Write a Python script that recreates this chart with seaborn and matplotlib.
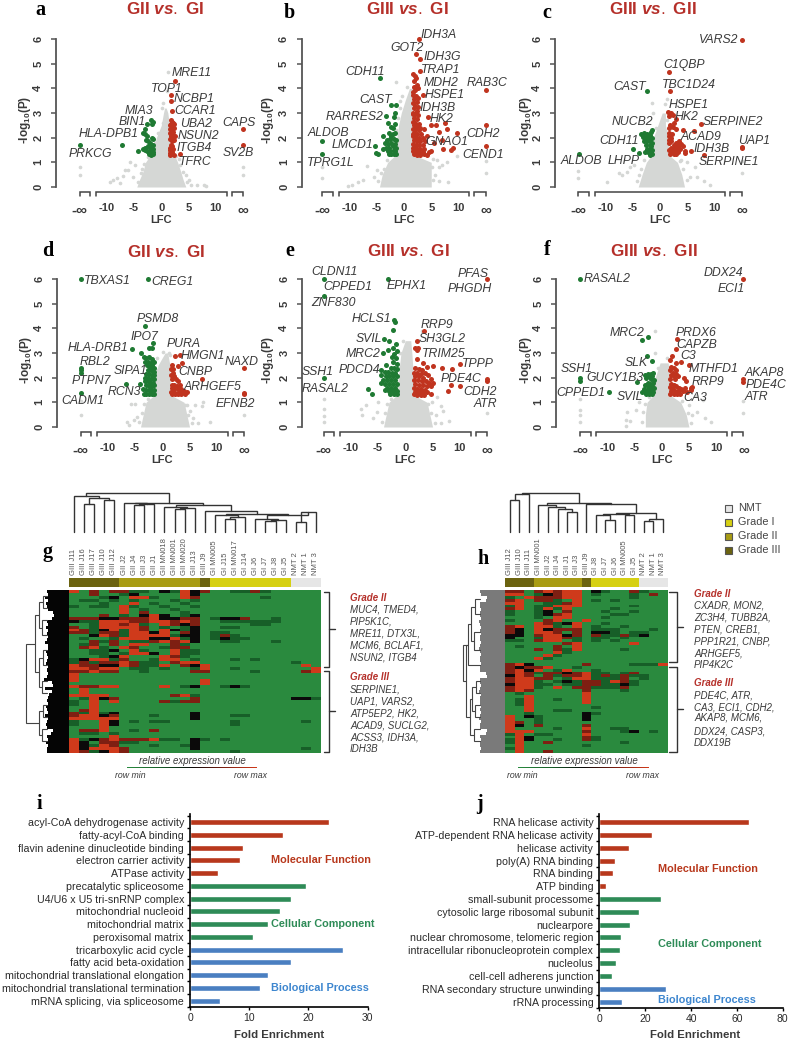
import numpy as np
import pandas as pd
import matplotlib
matplotlib.use("Agg")
import matplotlib.pyplot as plt
from matplotlib.colors import LinearSegmentedColormap, ListedColormap
from matplotlib.patches import Rectangle
import seaborn as sns

# ---- volcano data: (LFC, -log10 P), +-15 stands for +-infinity
A_DOWN = [(-15,1.7),(-7.3,1.72),(-1.8,2.72),(-1.6,2.65),(-1.7,2.55),(-2.6,2.55),(-3.0,2.35),(-3.4,2.17),(-2.9,2.15),(-2.6,2.05),
          (-2.8,1.9),(-2.4,1.85),(-1.7,2.0),(-1.5,1.95),(-2.0,1.8),(-1.6,1.7),(-2.5,1.65),(-1.9,1.6),(-1.5,1.55),(-3.4,1.55),
          (-2.9,1.6),(-4.2,1.45),(-2.6,1.45),(-2.2,1.4),(-1.8,1.45),(-1.5,1.4),(-2.3,1.32),(-1.9,1.3),(-1.6,1.32),(-2.9,1.5),(-2.0,1.5)]
A_UP = [(15,2.35),(15,1.7),(2.6,4.3),(1.7,3.75),(1.7,3.5),(1.9,3.1),(3.5,1.33),(1.7,2.7),(2.0,2.65),(2.3,2.55),(1.6,2.5),
        (2.0,2.45),(2.4,2.4),(1.6,2.35),(1.9,2.3),(2.2,2.25),(1.6,2.2),(2.0,2.12),(2.5,2.05),(1.7,2.05),(2.1,1.98),(1.6,1.95),
        (2.4,1.9),(1.9,1.85),(1.7,1.7),(2.0,1.65),(1.6,1.6),(1.9,1.55),(1.6,1.48),(2.0,1.42),(1.6,1.38),(1.9,1.33),(2.3,1.3),
        (1.65,1.3),(2.2,1.55),(2.2,2.6),(1.8,2.55),(1.8,2.15)]
A_GREY = [(-15,0.8),(-15,0.48),(15,0.8),(15,0.48),(1.2,4.65),(1.0,3.9),(0.4,3.4),(0.1,3.2),(-5.8,1.0),(-6.2,0.7),(-6.6,0.7),(-7,0.45),
          (-9.5,0.2),(-8.8,0.3),(-8.2,0.35),(-7.6,0.15),(-5.2,0.4),(-4.8,0.9),(5.5,0.1),(6.5,0.1),(7.8,0.1),(8.2,0.05),(4.6,0.5),(5,0.3),(-1.6,0.9),(3.2,1.15),
          (-3.8,0.55),(-3.2,0.95),(-2.5,1.2),(-4.2,0.2),(3.9,0.6),(3.4,0.9),(2.7,1.25),(4.8,0.2),(-1.2,1.8),(-0.6,2.2),(0.4,2.6),(-3.6,0.75)]
A_CLOUD = [(0,-4.5,4.5),(0.3,-4,4),(0.6,-3.4,3.6),(1,-2.9,3),(1.3,-2,2.4),(1.6,-1.4,1.5),(2,-0.9,1.5),(2.5,0,1.5),(3,0.4,1.2),(3.2,0.6,0.9)]

B_DOWN = [(-4.4,4.4),(-15,1.87),(-15,1.34),(-2.4,3.32),(-1.5,3.32),(-3.3,2.86),(-1.7,3.0),(-1.8,2.85),(-2.9,2.6),(-2.3,2.45),(-1.65,2.56),
          (-3.8,2.05),(-5.3,1.68),(-5.2,1.37),(-4.8,1.34),(-3.8,1.55),(-2.7,2.2),(-2.1,2.15),(-1.6,2.2),(-3.2,1.9),(-2.6,1.95),(-1.9,1.95),
          (-1.5,1.9),(-3.5,1.8),(-2.9,1.75),(-2.3,1.8),(-1.7,1.75),(-3.3,1.6),(-2.7,1.6),(-2.1,1.65),(-1.5,1.6),(-3.0,1.45),(-2.5,1.45),
          (-1.9,1.5),(-1.6,1.45),(-2.8,1.32),(-2.3,1.32),(-1.8,1.32),(-1.5,1.35),(-2.0,2.4),(-2.4,2.05)]
B_UP = [(2.7,6),(2.2,5.4),(3,5.2),(2.9,4.7),(15,3.95),(15,2.5),(15,1.65),(3.5,3.75),(4.4,2.83),(5,2.5),(5.9,2.5),(7.6,2.6),(7.9,2.35),(9.8,2.2),
        (6.4,2.25),(7,1.9),(5.5,1.8),(7.2,1.55),(9,1.6),(8.7,1.5),(5.0,1.45),(4.2,1.3),(1.7,4.6),(2.0,4.5),(2.2,4.4),(1.9,4.3),(2.3,4.15),(1.8,4.05),
        (2.5,4.0),(2.1,3.95),(1.7,3.75),(2.2,3.7),(2.6,3.6),(1.9,3.55),(2.3,3.45),(1.7,3.4),(2.1,3.3),(2.6,3.25),(1.8,3.2),(2.3,3.1),(1.7,3.0),
        (2.1,2.95),(2.6,2.9),(1.8,2.8),(2.3,2.75),(1.7,2.65),(2.1,2.6),(2.7,2.55),(1.8,2.5),(2.4,2.45),(3.0,2.4),(1.7,2.35),(2.1,2.3),(2.8,2.3),
        (3.6,2.35),(1.8,2.2),(2.4,2.15),(3.1,2.15),(1.7,2.05),(2.2,2.0),(2.8,2.0),(3.4,2.0),(4.2,2.05),(1.8,1.9),(2.4,1.85),(3.0,1.85),(3.8,1.85),
        (1.7,1.75),(2.2,1.7),(2.8,1.7),(3.4,1.7),(1.8,1.6),(2.4,1.55),(3.0,1.55),(3.7,1.55),(1.7,1.45),(2.2,1.4),(2.8,1.4),(3.4,1.4),(1.8,1.32),
        (2.4,1.3),(3.0,1.3),(3.6,1.32),(4.6,1.4),(1.6,3.85),(1.6,2.95),(1.6,2.15),(1.6,1.6)]
B_GREY = [(-15,0.8),(-15,0.35),(15,1.05),(15,0.55),(-1.5,4.25),(-0.8,3.5),(-6.8,0.85),(-8.5,0.2),(-9.5,0.1),(-10.2,0.05),(-7.5,0.3),(6,1.1),(6.5,0.8),
          (7,0.9),(7.8,1.0),(5.6,0.5),(6.5,0.25),(8,0.2),(9.8,1.25),(-5,0.7),(-5.5,0.4),(0.5,4.05),(-0.3,3.7),
          (-3.7,0.75),(-3.2,1.1),(-4.7,0.25),(-4.2,0.55),(5.2,0.8),(5.3,1.15),(5.4,0.3),(-1.5,2.3),(-1.1,2.8),(-0.7,3.2)]
B_CLOUD = [(0,-4.5,5),(0.5,-4,5),(1,-3,5),(1.3,-1.5,1.8),(2,-1.3,1.5),(2.5,-1,1.5),(3,-0.5,1.5),(3.5,0.2,1.5),(4,1,1.5)]

C_DOWN = [(-14.9,1.35),(-2.45,3.9),(-1.5,2.32),(-1.7,2.22),(-3.4,2.15),(-2.9,2.2),(-2.4,2.15),(-1.9,2.1),(-3.1,2.02),(-2.6,2.0),(-2.0,1.98),(-1.5,2.0),
          (-2.9,1.88),(-2.3,1.85),(-1.8,1.85),(-1.5,1.8),(-2.5,1.72),(-1.9,1.7),(-1.6,1.65),(-4.9,1.56),(-3.8,1.37),(-2.4,1.55),(-1.9,1.55),(-1.5,1.5),
          (-2.7,1.42),(-2.2,1.4),(-1.7,1.42),(-1.5,1.32),(-1.9,1.3),(-2.4,2.05)]
C_UP = [(15,5.97),(1.6,4.65),(1.8,3.88),(1.55,3.06),(2,3.0),(2.45,2.93),(1.7,2.86),(7.5,2.55),(6.2,2.28),(4.3,2.32),(15,1.64),(15,1.58),(8.1,1.3),(5.7,1.44),
        (4.6,1.37),(2.6,2.6),(1.9,2.5),(1.6,2.4),(2.4,2.42),(3.0,2.35),(1.7,2.2),(2.2,2.15),(1.6,2.05),(2.0,2.0),(1.7,1.9),(2.1,1.85),(1.6,1.78),(3.0,1.8),
        (3.5,1.85),(3.9,1.75),(2.6,1.72),(3.3,1.68),(4.2,1.65),(2.0,1.6),(2.5,1.58),(3.0,1.55),(3.6,1.55),(1.7,1.5),(2.2,1.45),(2.8,1.42),(3.3,1.4),(4.5,1.45),
        (1.9,1.35),(2.5,1.32),(3.0,1.32),(2.9,2.75)]
C_GREY = [(-15,0.65),(-15,0.35),(15,1.05),(15,0.55),(-9.7,0.2),(-7.5,0.55),(-7,0.5),(-6,0.6),(-5.5,0.8),(-4.7,0.9),(-1.4,3.4),(-1.2,3.0),(1.2,3.55),(1.0,3.35),
          (6.5,0.8),(5.5,0.4),(6.7,0.4),(8,0.25),(9.2,0.1),(5,1.0),(3.8,1.1),
          (-3.5,0.75),(-2.9,1.1),(-4.3,0.25),(-3.8,0.5),(4.3,0.75),(3.6,1.05),(4.9,0.3),(-1.3,2.0),(-0.8,2.4),(1.2,2.7)]
C_CLOUD = [(0,-4,4.5),(0.5,-3.3,4),(1,-2.5,3.2),(1.3,-1.5,1.6),(2,-1.2,1.5),(2.5,-0.4,1),(3,0.4,1)]

D_DOWN = [(-15,6),(-2.7,6),(-3.1,4.08),(-1.65,3.4),(-2.4,3.2),(-1.8,3.22),(-5.6,3.15),(-4,3.0),(-15,2.4),(-15,2.3),(-15,2.2),(-15,1.38),(-6.7,1.76),(-4.1,1.73),
          (-3.4,2.85),(-2.9,2.8),(-2.4,2.85),(-1.9,2.75),(-3.2,2.65),(-2.6,2.65),(-2.1,2.6),(-1.6,2.65),(-2.8,2.5),(-2.3,2.45),(-1.8,2.5),(-1.5,2.4),(-2.7,2.3),
          (-2.1,2.3),(-1.6,2.25),(-2.9,2.15),(-2.4,2.15),(-1.9,2.1),(-1.5,2.1),(-2.6,2.0),(-2.1,1.95),(-1.6,1.95),(-3.2,1.85),(-2.7,1.85),(-2.2,1.8),(-1.7,1.8),
          (-2.9,1.7),(-2.4,1.65),(-1.9,1.65),(-1.5,1.7),(-3.5,1.55),(-3,1.5),(-2.5,1.5),(-2,1.5),(-1.6,1.5),(-3.4,1.35),(-2.9,1.32),(-2.4,1.35),(-1.9,1.32),(-1.5,1.35),(-3.2,2.0)]
D_UP = [(2.3,2.88),(3.3,2.93),(3.7,2.6),(2.9,2.48),(7.3,1.94),(15,2.38),(15,1.38),(15,1.32),(3.3,1.7),(1.7,2.5),(1.6,2.35),(1.9,2.2),(1.6,2.1),(2.2,2.05),(2.6,1.95),
        (1.8,1.95),(2.8,1.85),(1.7,1.72),(2.2,1.7),(2.7,1.65),(1.7,1.58),(2.1,1.55),(2.8,1.55),(3.5,1.55),(4.0,1.45),(1.6,1.42),(2.2,1.42),(3.0,1.42),(3.6,1.4),
        (4.6,1.4),(1.7,1.32),(2.3,1.32),(2.9,1.32),(3.5,1.32),(4.2,1.32),(2.0,2.35)]
D_GREY = [(-15,1.05),(-15,0.5),(15,0.5),(-5.7,0.95),(-5.0,0.95),(-6.4,0.2),(-6.1,0.1),(-4.6,0.4),(-5.2,0.3),(-0.9,2.8),(0.2,3.05),(1.2,3.0),(1.4,2.9),(5,0.65),(6,0.9),
          (7.2,0.85),(5.6,0.35),(6.6,0.15),(8.7,0.2),(7.4,1.0),(4.6,0.9),
          (-3.8,0.55),(-3.3,0.95),(-4.3,0.2),(-2.6,1.15),(4.8,0.5),(4.2,0.9),(5.4,0.15),(-1.3,1.8),(-1,2.3),(1.5,2.4)]
D_CLOUD = [(0,-4,5),(0.5,-3.5,4.5),(1,-3,4),(1.3,-1.4,1.5),(2,-1.2,1.4),(2.5,-0.8,1.4),(3,0.5,1)]

E_DOWN = [(-15,6),(-3.1,6),(-15,5.33),(-2.1,4.35),(-1.85,4.25),(-2.2,3.95),(-15,1.97),(-3.85,3.57),(-3,3.47),(-4.15,3.02),(-3.1,3.13),(-6.8,1.56),(-6.2,1.34),(-3.5,2.5),
          (-1.7,3.35),(-2.2,3.2),(-1.6,3.1),(-2.0,2.95),(-2.5,2.85),(-1.7,2.8),(-2.2,2.65),(-1.6,2.55),(-2.7,2.4),(-2.1,2.4),(-1.6,2.35),(-4.4,2.3),(-3.8,2.25),(-3.2,2.25),
          (-2.5,2.2),(-1.9,2.2),(-4.5,2.1),(-3.6,2.05),(-2.9,2.05),(-2.2,2.05),(-1.6,2.05),(-4.1,1.9),(-3.3,1.9),(-2.6,1.9),(-1.9,1.9),(-4.4,1.8),(-3.7,1.75),(-3,1.75),
          (-2.3,1.75),(-1.6,1.75),(-3.3,1.6),(-2.6,1.6),(-1.9,1.6),(-3.7,1.5),(-3,1.45),(-2.3,1.45),(-1.6,1.45),(-2.8,1.32),(-2.1,1.32),(-1.6,1.32)]
E_UP = [(3.5,3.88),(2.1,3.5),(1.8,3.2),(2.4,3.2),(2.1,3.13),(2.1,2.75),(3.3,2.6),(3.9,2.43),(5,2.48),(6.7,2.38),(8.5,2.35),(10,2.56),(15,5.98),(15,1.95),(15,1.88),(8.3,1.7),
        (10,1.67),(7.9,1.44),(4.65,1.33),(1.8,2.4),(2.5,2.35),(3.1,2.3),(1.6,2.2),(2.2,2.2),(2.9,2.15),(3.6,2.2),(4.2,2.1),(1.8,2.05),(2.5,2.05),(3.2,2.0),(4.8,1.95),(1.6,1.9),
        (2.3,1.9),(3.0,1.85),(3.8,1.85),(4.4,1.8),(5,1.8),(1.8,1.75),(2.5,1.7),(3.3,1.7),(4,1.65),(4.7,1.65),(1.6,1.6),(2.2,1.55),(2.9,1.55),(3.6,1.5),(1.8,1.42),(2.5,1.42),
        (3.2,1.4),(3.9,1.42),(1.6,1.32),(2.2,1.3),(2.9,1.3),(3.5,1.3)]
E_GREY = [(-15,1.15),(-15,0.75),(-15,0.45),(-15,0.2),(15,0.55),(-8.2,0.75),(-8,0.5),(-7.2,0.9),(-6,0.35),(-5.2,0.6),(-0.5,3.5),(3.1,3.9),(5.8,1.2),(6.5,0.85),(7,0.65),(5.7,0.5),
          (8,0.25),(6.5,0.15),(4.9,1.0),(-5,1.0),
          (-3.8,0.55),(-3.3,0.95),(-4.3,0.2),(-2.6,1.15),(4.8,0.55),(4.2,0.95),(5.4,0.15),(-1.4,2.4),(-1,3.0)]
E_CLOUD = [(0,-4,5),(0.5,-3.5,4.5),(1,-3,4),(1.3,-1.5,1.5),(2,-1.3,1.5),(3,-0.8,1.2),(3.5,0,1)]

F_DOWN = [(-15,6),(-2.45,3.63),(-3.7,3.54),(-2.7,2.86),(-1.85,2.66),(-15,1.98),(-15,1.85),(-9.6,1.4),(-4.5,1.82),(-1.6,2.2),(-2.0,2.15),(-2.6,2.15),(-3,2.12),(-1.7,2.05),
          (-2.3,2.05),(-2.8,2.0),(-1.5,1.9),(-1.9,1.95),(-2.6,1.8),(-1.6,1.8),(-2.1,1.75),(-3,1.7),(-2.5,1.65),(-1.8,1.65),(-1.5,1.6),(-3.2,1.55),(-2.7,1.5),(-2.2,1.55),(-1.8,1.5),
          (-3.6,1.42),(-3.1,1.4),(-2.6,1.38),(-2.1,1.4),(-1.6,1.4),(-2.9,1.32),(-2.3,1.32),(-1.8,1.32)]
F_UP = [(2.75,3.56),(2.6,3.17),(1.95,2.86),(1.5,2.7),(2.6,2.59),(3.55,2.63),(5,2.5),(15,5.98),(15,1.94),(15,1.84),(4,1.98),(4.5,1.88),(5.5,1.64),(5.3,1.5),(1.7,2.45),(2.2,2.4),
        (1.6,2.3),(2.7,2.3),(2.0,2.2),(2.6,2.15),(1.7,2.1),(2.2,2.05),(2.9,2.05),(1.6,1.95),(2.4,1.95),(1.7,1.75),(2.2,1.72),(1.6,1.62),(2.6,1.65),(3.2,1.6),(4.2,1.6),(2,1.55),(3.6,1.55),
        (1.7,1.45),(2.4,1.45),(3,1.45),(3.9,1.45),(4.6,1.42),(1.6,1.32),(2.2,1.32),(2.8,1.32),(3.4,1.35),(5.4,1.58)]
F_GREY = [(-15,1.15),(-15,0.7),(-15,0.5),(-15,0.2),(15,1.05),(15,0.55),(-6.3,0.6),(-6.5,0.3),(-6.6,0.05),(-5.9,0.25),(-4.8,0.7),(-4.2,1.0),(-1.2,3.0),(-1.3,3.9),(1,2.8),(6.3,1.3),
          (7.5,1.1),(6.5,0.6),(5.5,0.5),(8,0.35),(9,0.2),(5,0.9),
          (-3.5,0.6),(-3.1,0.95),(-3.6,0.2),(-2.3,1.2),(4.8,0.55),(3.8,1.05),(5.4,0.15),(-1.3,1.9),(-0.6,2.4)]
F_CLOUD = [(0,-3,5),(0.5,-3,4.5),(1,-2.7,3.5),(1.3,-1.5,1.5),(2,-1.2,1.4),(2.6,-0.3,1.2)]

# gene names of each volcano, positions on the page further down
A_GENES = ["MRE11","TOP1","NCBP1","MIA3","CCAR1","BIN1","UBA2","CAPS","HLA-DPB1","NSUN2","ITGB4","PRKCG","SV2B","TFRC"]
B_GENES = ["CDH11","CAST","RARRES2","ALDOB","LMCD1","TPRG1L","IDH3A","GOT2","IDH3G","TRAP1","MDH2","RAB3C","HSPE1","IDH3B","HK2","CDH2","GNAO1","CEND1"]
C_GENES = ["VARS2","C1QBP","CAST","TBC1D24","HSPE1","HK2","NUCB2","SERPINE2","ACAD9","CDH11","UAP1","IDH3B","LHPP","ALDOB","SERPINE1"]
D_GENES = ["TBXAS1","CREG1","PSMD8","IPO7","PURA","HLA-DRB1","HMGN1","RBL2","NAXD","SIPA1","CNBP","PTPN7","ARHGEF5","RCN3","CADM1","EFNB2"]
E_GENES = ["CLDN11","CPPED1","EPHX1","ZNF830","HCLS1","SVIL","MRC2","PDCD4","SSH1","RASAL2","PFAS","PHGDH","RRP9","SH3GL2","TRIM25","TPPP","PDE4C","CDH2","ATR"]
F_GENES = ["RASAL2","DDX24","ECI1","MRC2","PRDX6","CAPZB","C3","SLK","MTHFD1","SSH1","AKAP8","GUCY1B3","RRP9","PDE4C","CPPED1","SVIL","CA3","ATR"]

# ---- heatmaps: 0 green, 1 dark green, 2 black, 3 dark red, 4 red
G_COLS = ["GIII J11","GIII J16","GIII J17","GIII J10","GIII J12","GII J2","GII J4","GII J3","GII J1","GII MN018","GII MN001","GII MN020","GII J13",
          "GIII J9","GI MN005","GI J15","GI MN017","GI J14","GI J6","GI J7","GI J8","GI J5","NMT 2","NMT 1","NMT 3"]
H_COLS = ["GIII J12","GIII J10","GIII J11","GII MN001","GII J2","GII J4","GII J1","GII J3","GIII J9","GI J8","GI J7","GI J6","GI MN005","GI J5","NMT 2","NMT 1","NMT 3"]
G_ROWS = """
40303 31102142 3 00113100 000
00300 12000042 0 00000000 000
00012 04410043 0 00000100 000
01101 01000101 0 00000000 000
00010 04010010 0 00000000 000
10110 41001001 0 00000000 000
00000 40100100 0 00000000 000
00000 40300010 0 00000000 000
00030 10242012 0 00000000 000
33322 33342233 0 12230010 000
21144 43344343 0 01111110 000
00144 34104323 0 00001100 000
30144 44301012 0 01100000 000
43124 14304212 0 00000000 000
33133 14424032 0 11000000 000
00243 14444122 0 13100000 000
01001 44422412 0 12110000 000
00313 01134342 0 01100010 000
01303 04400310 0 00000000 000
03410 43001330 0 00000000 000
00112 04100411 0 00000000 000
00110 14420411 0 00000000 000
00012 40004310 0 00000000 000
12441 30014401 0 00101000 000
13133 43110344 0 00000000 100
43322 43114032 4 00000000 040
44344 01101001 4 00100000 004
33433 00100003 3 00001000 034
40000 00000000 0 00000000 000
40000 00000000 0 00000000 000
40000 00000000 4 00000000 000
00000 00000000 4 00000000 000
43344 00004012 0 01210000 000
04000 00000000 0 00000000 000
04000 00000000 0 00000000 000
44440 00000341 0 00000000 000
01423 00000003 0 00000000 221
10404 00003133 0 00000000 000
10400 00000000 0 00000000 000
00400 00000000 0 00000000 000
03400 00000000 0 00000000 000
31412 00000002 0 00000000 000
34423 00010002 0 00110000 000
44444 00000002 0 00000000 000
10042 01011000 0 00100000 010
10042 00000000 0 00100000 000
00040 00000000 0 00000000 000
03340 01030000 0 00000000 000
01101 00000000 0 00000000 000
00004 00000000 0 00000000 000
41234 33341102 1 01000000 000
42033 11000002 0 00000000 000
42143 00010012 0 00000000 000
42444 30000002 0 00000000 010
43124 30000000 0 00100000 000
"""
H_ROWS = """
330 34344 0 21003 100
440 12344 0 10001 030
104 33344 0 00001 000
340 33104 0 10100 000
440 01134 0 00000 000
140 11444 0 00001 000
340 14140 0 00100 000
100 12030 0 01001 000
100 12340 0 00110 000
000 10440 0 01000 000
100 03400 4 00000 000
000 43124 0 01000 000
340 44104 0 10010 000
320 42333 0 11100 010
320 44303 0 22101 100
220 34423 0 31131 200
200 14431 0 11010 000
110 34401 0 10100 000
000 00034 0 00004 000
010 00304 0 00000 000
000 30314 0 00010 000
000 00410 0 00000 000
000 04100 0 00000 000
000 41000 0 00000 000
000 00000 0 00000 000
342 00000 3 00001 114
323 34001 0 00000 000
342 40140 0 10000 000
343 13323 4 11013 000
243 03133 4 13131 100
344 33014 4 11130 100
344 10121 3 31431 000
244 11011 3 31121 000
344 10403 3 11130 000
343 00000 3 00010 000
010 00000 4 00000 000
004 00000 4 00000 000
014 00100 4 00000 000
014 00000 4 00000 000
014 00000 0 00000 000
004 00000 0 10000 000
004 00110 0 00000 000
001 00000 2 10000 000
402 10000 2 00000 000
400 10000 2 00000 000
430 10000 0 00000 000
420 30000 3 00000 000
400 00100 4 00110 000
444 00000 3 00012 010
140 11000 4 00000 000
042 00000 3 10000 000
142 00100 3 10000 000
140 03000 0 00010 000
040 00000 1 00000 000
140 00000 0 00000 000
040 03000 0 00000 000
"""
# merges (left, right, height): an index >= number of leaves is an earlier merge
G_COL_TREE = [(1,2,27.7),(3,4,32),(25,26,34),(0,27,36),(6,7,27),(29,8,28),(5,30,29),(10,11,23),(32,12,24),(9,33,25),(15,16,13),(35,17,15),
              (14,36,17),(19,20,11),(38,21,12.5),(18,39,13),(22,23,10),(41,24,20),(40,42,17.5),(37,43,18.5),(13,44,21.5),(34,45,27),(31,46,29.5),(28,47,39)]
H_COL_TREE = [(0,1,31.7),(17,2,38),(6,7,20),(5,19,23),(4,20,25.5),(3,21,27),(10,11,11.7),(9,23,16.7),(12,13,16.7),(24,25,18.5),(14,15,11),(27,16,13.3),
              (26,28,19.5),(8,29,28),(22,30,29.5),(18,31,39)]
G_ROW_LEAVES = [2,6,10,15,20,25,30,34,38,42,46,50]
G_ROW_TREE = [(0,1,26),(2,3,27),(12,13,30),(4,5,26),(6,7,27),(15,16,30),(14,17,34),(8,9,26),(10,11,27),(19,20,30),(18,21,43)]
H_ROW_LEAVES = [3,8,14,20,25,30,34,38,42,46,50]
H_ROW_TREE = [(0,1,30),(2,3,31),(11,12,34),(4,13,37),(5,6,29),(7,8,30),(15,16,33),(9,10,31),(17,18,35),(19,14,39),(20,14,42)]
G_LEAF_DEPTH = [22,21,24,21,23,22,21,16,15,17,22,21,23,21,22,21,22,24,21,21,23,22,21,22,23,21,22,21,22,25,17,16,24,17,20,21,22,21,23,22,21,24,21,22,23,22,16,18,22,21,23,21,22,22]
H_LEAF_DEPTH = [25,24,18,19,25,25,24,25,25,24,26,25,24,25,24,25,25,24,25,26,25,24,25,25,24,25,25,19,18,25,25,24,25,26,24,25,25,25,24,25,24,25,26,24,25,25,18,19,25,24,25,25,24,25]

GRADE_NAMES = ["NMT","Grade I","Grade II","Grade III"]
GRADE_COLOURS = ["#e6e6e6","#d6d012","#a89c14","#6b6310"]

G_NOTE_II = ["MUC4, TMED4,","PIP5K1C,","MRE11, DTX3L,","MCM6, BCLAF1,","NSUN2, ITGB4"]
G_NOTE_III = ["SERPINE1,","UAP1, VARS2,","ATP5EP2, HK2,","ACAD9, SUCLG2,","ACSS3, IDH3A,","IDH3B"]
H_NOTE_II = ["CXADR, MON2,","ZC3H4, TUBB2A,","PTEN, CREB1,","PPP1R21, CNBP,","ARHGEF5,","PIP4K2C"]
H_NOTE_III = ["PDE4C, ATR,","CA3, ECI1, CDH2,","AKAP8, MCM6,","DDX24, CASP3,","DDX19B"]

# ---- enrichment bars
I_TERMS = ["acyl-CoA dehydrogenase activity","fatty-acyl-CoA binding","flavin adenine dinucleotide binding","electron carrier activity","ATPase activity",
           "precatalytic spliceosome","U4/U6 x U5 tri-snRNP complex","mitochondrial nucleoid","mitochondrial matrix","peroxisomal matrix",
           "tricarboxylic acid cycle","fatty acid beta-oxidation","mitochondrial translational elongation","mitochondrial translational termination","mRNA splicing, via spliceosome"]
I_VALUES = [23.4,15.7,8.9,8.4,4.7,19.5,17,15.2,13.1,10.6,25.8,17,13.2,11.9,5.1]
I_GROUPS = ["MF"]*5+["CC"]*5+["BP"]*5
J_TERMS = ["RNA helicase activity","ATP-dependent RNA helicase activity","helicase activity","poly(A) RNA binding","RNA binding","ATP binding",
           "small-subunit processome","cytosolic large ribosomal subunit","nuclearpore","nuclear chromosome, telomeric region","intracellular ribonucleoprotein complex",
           "nucleolus","cell-cell adherens junction","RNA secondary structure unwinding","rRNA processing"]
J_VALUES = [65.5,23.1,12.8,6.8,6.1,2.8,26.8,17.2,13.2,9.3,8.9,7.1,5.4,29.2,10]
J_GROUPS = ["MF"]*6+["CC"]*7+["BP"]*2

sns.set_style("white")
plt.rcParams["font.family"] = ["Liberation Sans","DejaVu Sans"]
plt.rcParams["mathtext.fontset"] = "custom"
plt.rcParams["mathtext.it"] = "Liberation Sans:italic:bold"
plt.rcParams["mathtext.bf"] = "Liberation Sans:bold"
plt.rcParams["mathtext.rm"] = "Liberation Sans"
plt.rcParams["mathtext.default"] = "regular"

W, H = 790, 1041
TXT = "#3a3a3a"
RED, GREEN, GREY = "#c0341f", "#1f7a33", "#d5d7d5"
fig = plt.figure(figsize=(7.9, 10.41), dpi=100)

def px_axes(l, t, r, b):
    return fig.add_axes([l/W, 1-b/H, (r-l)/W, (b-t)/H])

page = fig.add_axes([0, 0, 1, 1], zorder=10)
page.set_xlim(0, W)
page.set_ylim(H, 0)
page.axis("off")
page.patch.set_alpha(0)

def label(x, y, s, **kw):
    kw.setdefault("ha", "center")
    kw.setdefault("va", "center")
    kw.setdefault("color", TXT)
    page.text(x, y, s, **kw)

def volcano(x_axis, x0, top, up, down, grey, cloud):
    s = 5.45
    y0 = top+148
    ax = px_axes(x_axis, top, x0+16.3*s, y0)
    ax.set_xlim((x_axis-x0)/s, 16.3)
    ax.set_ylim(0, 6)
    ax.patch.set_alpha(0)
    c = np.array(cloud)
    ax.fill_betweenx(c[:, 0], c[:, 1], c[:, 2], color=GREY, lw=0)
    for pts, col, size in ((grey, GREY, 7), (down, GREEN, 13), (up, RED, 13)):
        df = pd.DataFrame(pts, columns=["lfc", "p"])
        sns.scatterplot(data=df, x="lfc", y="p", color=col, s=size, linewidth=0, ax=ax, clip_on=False, zorder=3)
    ax.set_xlabel("")
    ax.set_ylabel("")
    for side in ("top", "right", "bottom"):
        ax.spines[side].set_visible(False)
    ax.spines["left"].set_color("#555555")
    ax.spines["left"].set_linewidth(1.3)
    ax.set_yticks(range(7))
    ax.tick_params(axis="y", left=True, length=3.6, width=1.1, color="#555555", pad=5.5, labelsize=8, labelcolor=TXT, labelrotation=90)
    for t in ax.get_yticklabels():
        t.set_fontweight("bold")
        t.set_va("center")
    ax.set_xticks([-15, -10, -5, 0, 5, 10, 15])
    ax.set_xticklabels(["-\u221e", "-10", "-5", "0", "5", "10", "\u221e"], fontweight="bold")
    ax.tick_params(axis="x", bottom=False, pad=8.3, labelsize=8, labelcolor=TXT)
    ax.get_xticklabels()[0].set_fontsize(11)
    ax.get_xticklabels()[-1].set_fontsize(11)
    # broken x axis
    yl, yt = -0.2, -0.36
    for a, b in ((-15, -13), (-12, 12), (12.9, 15)):
        ax.plot([a, a, b, b], [yt, yl, yl, yt], color="#444444", lw=1.1, clip_on=False, solid_joinstyle="miter")

BOXES = {"a": (56, 161.3, 39, A_UP, A_DOWN, A_GREY, A_CLOUD), "b": (301.7, 404, 39, B_UP, B_DOWN, B_GREY, B_CLOUD), "c": (555, 660, 39, C_UP, C_DOWN, C_GREY, C_CLOUD),
         "d": (57, 162.3, 279, D_UP, D_DOWN, D_GREY, D_CLOUD), "e": (302, 405.3, 279, E_UP, E_DOWN, E_GREY, E_CLOUD), "f": (556, 661.7, 279, F_UP, F_DOWN, F_GREY, F_CLOUD)}
YLABEL_X = {"a": 25, "b": 268, "c": 526, "d": 26, "e": 268, "f": 526}
for k, v in BOXES.items():
    volcano(*v)
    top = v[2]
    label(YLABEL_X[k], top+81, r"-log$_{\mathregular{10}}$(P)", rotation=90, fontsize=8.5, fontweight="bold")
    label(v[1], top+181, "LFC", fontsize=8, fontweight="bold")

TITLES = [(165, 9, "GII", "GI"), (407, 9, "GIII", "GI"), (653, 9, "GIII", "GII"), (166, 252, "GII", "GI"), (408, 251, "GIII", "GI"), (654, 251, "GIII", "GII")]
for x, y, g1, g2 in TITLES:
    label(x, y, g1+r" $\mathit{vs.}$ "+g2, fontsize=12.3, fontweight="bold", color="#b5302a")

LETTERS = [("a",40,10),("b",289,13),("c",547,13),("d",48,251),("e",290,251),("f",547,250),("g",48,552),("h",483,559),("i",39,804),("j",479,804)]
for s, x, y in LETTERS:
    label(x, y, s, family="Liberation Serif", fontweight="bold", fontsize=14.5, color="black")

A_XY = [(192,73),(167,89),(194,99),(139,111),(195,111),(132,122),(196,124),(239,123),(109,134),(198,136),(194,148),(90,154),(238,153),(195,162)]
B_XY = [(365,72),(376,100),(355,117),(328,133),(352,145),(331,163),(439,35),(407,48),(442,57),(441,70),(441,83),(487,83),(445,95),(438,108),(442,119),(483,134),(447,142),(483,155)]
C_XY = [(719,40),(684,65),(630,87),(689,85),(689,105),(687,117),(632,122),(733,122),(701,137),(619,141),(754,141),(712,149),(624,161),(581,161),(729,162)]
D_XY = [(107,281),(172,282),(158,319),(144,337),(184,344),(98,348),(203,356),(95,362),(242,362),(131,371),(195,372),(91,381),(213,387),(124,392),(83,401),(235,404)]
E_XY = [(335,272),(348,287),(407,286),(333,303),(371,319),(369,339),(363,354),(359,370),(318,372),(325,389),(473,274),(470,289),(437,325),(442,339),(444,354),(478,364),(461,379),(480,392),(485,404)]
F_XY = [(607,279),(723,273),(731,289),(627,333),(696,333),(697,345),(688,356),(636,363),(714,369),(577,369),(764,373),(615,378),(708,382),(766,385),(581,393),(630,397),(695,398),(756,397)]
for names, xy in ((A_GENES,A_XY),(B_GENES,B_XY),(C_GENES,C_XY),(D_GENES,D_XY),(E_GENES,E_XY),(F_GENES,F_XY)):
    for name, (x, y) in zip(names, xy):
        label(x, y, name, fontsize=8.8, fontstyle="italic")

heat_cmap = LinearSegmentedColormap.from_list("gkr", [(0, "#2a8a3e"), (0.25, "#175f28"), (0.5, "#0a0a0a"), (0.75, "#7d1f12"), (1, "#cf3a1b")])
grade_cmap = ListedColormap(GRADE_COLOURS)

def grade_code(name):
    return 0 if name.startswith("NMT") else len(name.split()[0])-1

def parse_rows(txt):
    return np.array([[int(c) for c in line.replace(" ", "")] for line in txt.strip().splitlines()])

def draw_tree(ax, leaves, merges, leaf_h, vertical=True):
    pos = list(leaves)
    hgt = [leaf_h]*len(pos)
    for a, b, h in merges:
        xs = [pos[a], pos[a], pos[b], pos[b]]
        ys = [hgt[a], h, h, hgt[b]]
        if vertical:
            ax.plot(xs, ys, color="#333333", lw=1, clip_on=False, solid_joinstyle="miter")
        else:
            ax.plot(ys, xs, color="#444444", lw=0.8, clip_on=False, solid_joinstyle="miter")
        pos.append((pos[a]+pos[b])/2)
        hgt.append(h)

def clustermap_panel(l, r, cols, rows, col_tree, row_leaves, row_tree, depth, block, row_left):
    m = parse_rows(rows)
    ax = px_axes(l, 590, r, 753)
    sns.heatmap(m, cmap=heat_cmap, vmin=0, vmax=4, cbar=False, xticklabels=False, yticklabels=False, ax=ax)
    bar = px_axes(l, 578, r, 587)
    sns.heatmap([[grade_code(c) for c in cols]], cmap=grade_cmap, vmin=0, vmax=3, cbar=False, xticklabels=cols, yticklabels=False, ax=bar)
    bar.tick_params(axis="x", top=True, labeltop=True, bottom=False, labelbottom=False, length=0, pad=2, labelsize=5.5, labelcolor="#555555", labelrotation=90)
    tree = px_axes(l, 493, r, 532)
    tree.axis("off")
    tree.set_xlim(0, len(cols))
    tree.set_ylim(0, 39)
    draw_tree(tree, [i+0.5 for i in range(len(cols))], col_tree, 0)
    side = px_axes(row_left, 590, l, 753)
    side.axis("off")
    side.set_xlim(l-row_left, 0)
    side.set_ylim(54, 0)
    side.barh(np.arange(54)+0.5, depth, height=1, color=block, lw=0)
    draw_tree(side, row_leaves, row_tree, depth[0], vertical=False)

clustermap_panel(68.5, 321, G_COLS, G_ROWS, G_COL_TREE, G_ROW_LEAVES, G_ROW_TREE, G_LEAF_DEPTH, "#050505", 25)
clustermap_panel(505, 667.7, H_COLS, H_ROWS, H_COL_TREE, H_ROW_LEAVES, H_ROW_TREE, H_LEAF_DEPTH, "#7a7a7a", 463)

def bracket(x0, x1, xn, y0, y1, yn):
    page.plot([x0, x1, x1, x0], [y0, y0, y1, y1], color="#333333", lw=1)
    page.plot([x1, xn], [yn, yn], color="#333333", lw=1)

bracket(324, 329, 335, 592, 667, 629)
bracket(324, 329, 335, 671, 752, 711)
bracket(669, 677, 683, 592, 662, 627)
bracket(669, 677, 683, 667, 752, 709)

def note(x, y_head, ys, head, lines):
    label(x, y_head, head, ha="left", fontsize=7, fontstyle="italic", fontweight="bold", color="#b5302a")
    for y, s in zip(ys, lines):
        label(x, y, s, ha="left", fontsize=7, fontstyle="italic")

note(350, 598, [609,621,633,645,657], "Grade II", G_NOTE_II)
note(350, 677, [689,701,713,725,737,749], "Grade III", G_NOTE_III)
note(694, 594, [606,618,630,641,654,665], "Grade II", H_NOTE_II)
note(694, 683, [695,707,718,731,743], "Grade III", H_NOTE_III)

for xc, l, r, xmin, xmax in ((192, 127, 257, 130, 250), (584, 518, 649, 522, 642)):
    label(xc, 761, "relative expression value", fontsize=7, fontstyle="italic")
    cb = px_axes(l, 766.5, r, 768)
    sns.heatmap(np.linspace(0, 1, 120).reshape(1, -1), cmap=heat_cmap, cbar=False, xticklabels=False, yticklabels=False, ax=cb)
    label(xmin, 775, "row min", fontsize=6.3, fontstyle="italic")
    label(xmax, 775, "row max", fontsize=6.3, fontstyle="italic")

for y, name, col in zip((508, 522, 536, 550), GRADE_NAMES, GRADE_COLOURS):
    page.add_patch(Rectangle((724.5, y-3.5), 7, 7, facecolor=col, edgecolor="#555555", lw=0.8))
    label(738, y, name, ha="left", fontsize=7.8, color="#444444")

def bars(box, terms, values, groups, xmax, step):
    ax = px_axes(*box)
    df = pd.DataFrame({"term": terms, "value": values, "group": groups})
    sns.barplot(data=df, x="value", y="term", hue="group", palette={"MF": "#b8381c", "CC": "#2e8b57", "BP": "#4a7fc1"},
                dodge=False, legend=False, width=0.47, saturation=1, ax=ax)
    ax.set_xlim(0, xmax)
    ax.set_ylim(14.47, -0.63)
    ax.set_xlabel("")
    ax.set_ylabel("")
    ax.set_xticks(range(0, xmax+1, step))
    ax.set_yticks(np.arange(-0.5, 14.6, 1), minor=True)
    ax.tick_params(axis="y", which="major", left=False, length=0, pad=4.3, labelsize=7.7, labelcolor="#2a2a2a")
    ax.tick_params(axis="y", which="minor", left=True, length=2, width=1, color="black")
    ax.tick_params(axis="x", bottom=True, length=2, width=1, color="black", pad=2, labelsize=7.5, labelcolor="#2a2a2a")
    for side in ("top", "right"):
        ax.spines[side].set_visible(False)
    for side in ("left", "bottom"):
        ax.spines[side].set_color("black")
        ax.spines[side].set_linewidth(1.2)

bars((190, 814, 367.7, 1007), I_TERMS, I_VALUES, I_GROUPS, 30, 10)
bars((599.3, 814, 782.7, 1008), J_TERMS, J_VALUES, J_GROUPS, 80, 20)

GROUP_LABELS = [(271, 860, "Molecular Function", "#b8381c"), (271, 924, "Cellular Component", "#2e8b57"), (271, 988, "Biological Process", "#3d86cf"),
                (658, 869, "Molecular Function", "#b8381c"), (658, 944, "Cellular Component", "#2e8b57"), (658, 1000, "Biological Process", "#3d86cf")]
for x, y, s, c in GROUP_LABELS:
    label(x, y, s, ha="left", fontsize=7.8, fontweight="bold", color=c)
label(279, 1035, "Fold Enrichment", fontsize=8.2, fontweight="bold")
label(695, 1035, "Fold Enrichment", fontsize=8.2, fontweight="bold")

fig.savefig("out.png", dpi=100)
